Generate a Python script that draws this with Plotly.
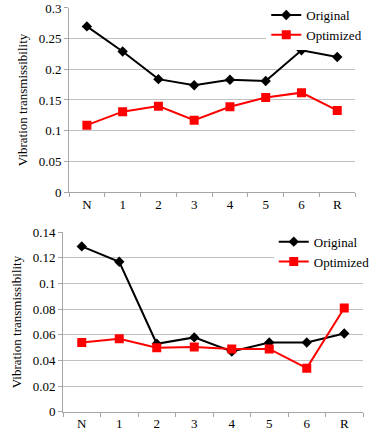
import plotly.graph_objects as go

categories = ["N", "1", "2", "3", "4", "5", "6", "R"]
top_original = [0.270, 0.229, 0.184, 0.174, 0.183, 0.181, 0.231, 0.220]
top_optimized = [0.109, 0.131, 0.140, 0.117, 0.139, 0.154, 0.162, 0.133]
bot_original = [0.129, 0.117, 0.053, 0.058, 0.047, 0.054, 0.054, 0.061]
bot_optimized = [0.054, 0.057, 0.050, 0.0505, 0.049, 0.049, 0.034, 0.081]

FONT = "Liberation Serif"
GRID = "#c0c0c0"
AX = "#a6a6a6"

fig = go.Figure()

def add_pair(orig, opt, xa, ya, leg):
    fig.add_trace(go.Scatter(x=categories, y=orig, name="Original", mode="lines+markers",
                             line=dict(color="black", width=2),
                             marker=dict(symbol="diamond", size=8, color="black"),
                             xaxis=xa, yaxis=ya, legend=leg))
    fig.add_trace(go.Scatter(x=categories, y=opt, name="Optimized", mode="lines+markers",
                             line=dict(color="#ff0000", width=2),
                             marker=dict(symbol="square", size=9, color="#ff0000"),
                             xaxis=xa, yaxis=ya, legend=leg))

add_pair(top_original, top_optimized, "x", "y", "legend")
add_pair(bot_original, bot_optimized, "x2", "y2", "legend2")

xcommon = dict(type="category", range=[-0.5, 7.5], showgrid=False, showline=True,
               linecolor=AX, linewidth=1, ticks="outside", tickson="boundaries",
               ticklen=4, tickcolor=AX, tickfont=dict(family=FONT, size=13, color="black"),
               zeroline=False, automargin=False)
ycommon = dict(showgrid=True, gridcolor=GRID, gridwidth=1, showline=True, linecolor=AX,
               linewidth=1, ticks="outside", ticklen=4, tickcolor=AX,
               tickfont=dict(family=FONT, size=13, color="black"), zeroline=False,
               automargin=False,
               title=dict(text="Vibration transmissibility",
                          font=dict(family=FONT, size=13, color="black"), standoff=8))

fig.update_layout(
    width=375, height=436,
    margin=dict(l=0, r=0, t=0, b=0, autoexpand=False),
    paper_bgcolor="white", plot_bgcolor="white",
    font=dict(family=FONT, size=13, color="black"),
    xaxis=dict(domain=[0.184, 0.947], anchor="y", **xcommon),
    yaxis=dict(domain=[0.5596, 0.9817], anchor="x", range=[0, 0.3], dtick=0.05,
               tickformat="~g", **ycommon),
    xaxis2=dict(domain=[0.168, 0.968], anchor="y2", **xcommon),
    yaxis2=dict(domain=[0.0557, 0.4672], anchor="x2", range=[0, 0.14], dtick=0.02,
                tickformat="~g", **ycommon),
    legend=dict(x=0.71, y=1.0, xanchor="left", yanchor="top", bgcolor="white",
                font=dict(family=FONT, size=13, color="black"), tracegroupgap=0,
                valign="middle"),
    legend2=dict(x=0.73, y=0.48, xanchor="left", yanchor="top", bgcolor="white",
                 font=dict(family=FONT, size=13, color="black"), tracegroupgap=0),
)

fig.write_html("out.html", config={"displayModeBar": False},
               post_script="document.body.style.margin='0';")
